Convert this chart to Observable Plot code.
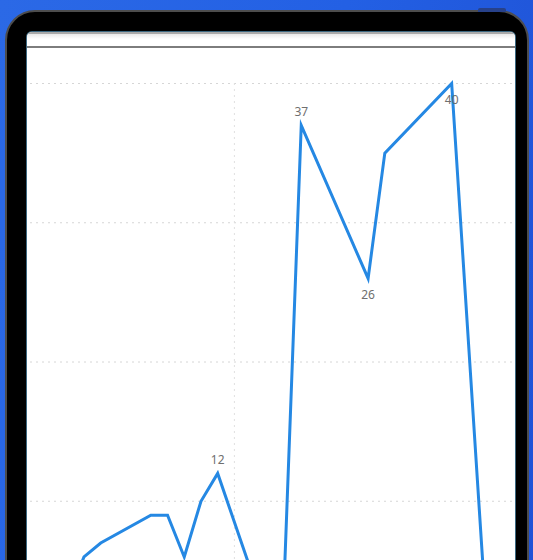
<!DOCTYPE html>
<html>
<head>
<meta charset="utf-8">
<script src="https://cdn.jsdelivr.net/npm/d3@7"></script>
<script src="https://cdn.jsdelivr.net/npm/@observablehq/plot@0.6"></script>
<style>
  html, body { margin: 0; padding: 0; }
  body {
    width: 533px; height: 560px; overflow: hidden; position: relative;
    background: linear-gradient(100deg, #2b69e6 0%, #2360e4 55%, #1f52d6 100%);
    font-family: "Open Sans", "Noto Sans", sans-serif;
  }
  #button { position: absolute; left: 478px; top: 8px; width: 28px; height: 4px;
    background: #27418a; border-radius: 2px 2px 0 0; }
  #bezel {
    position: absolute; left: 5px; top: 10px; width: 524px; height: 620px;
    background: #000; border: 2px solid #4d4d4d; border-radius: 30px; box-sizing: border-box;
  }
  #screen {
    position: absolute; left: 27px; top: 32px; width: 488px; height: 560px;
    background: #fff; border-radius: 5px 5px 0 0; overflow: hidden;
    box-shadow: 0 0 0 1px rgba(110, 190, 235, 0.55);
  }
  #header {
    position: absolute; left: 0; top: 0; width: 100%; height: 16px; box-sizing: border-box;
    border-top: 2px solid #a9a9a9; border-bottom: 2px solid #7d7d7d;
    background: linear-gradient(#e8e8e8, #ffffff 5px);
  }
  #chart { position: absolute; left: 0; top: 16px; }
  #chart svg { display: block; }
</style>
</head>
<body>
<div id="bezel"></div>
<div id="button"></div>
<div id="screen">
  <div id="header"></div>
  <div id="chart"></div>
</div>
<script>
// Data (x = period index, y = value)
const periods = [-2, -1, 0, 3, 4, 5, 6, 7, 9, 10, 11, 12, 16, 17, 21, 23, 24];
const values  = [ 3,  6, 7, 9, 9, 6, 10, 12, 5, 3, 5, 37, 26, 35, 40, 3, 2];
const labelsAbove = [7, 12];   // periods whose value is written above the point
const labelsBelow = [16, 21];  // periods whose value is written below the point
const yTicks = [10, 20, 30, 40];
const xGrid = [8];

const data = periods.map((p, i) => ({period: p, value: values[i]}));
const above = data.filter(d => labelsAbove.includes(d.period));
const below = data.filter(d => labelsBelow.includes(d.period));

const chart = Plot.plot({
  width: 488,
  height: 600,
  marginLeft: 3,
  marginRight: 2,
  marginTop: 35,
  marginBottom: 8,
  x: {domain: [-4.2, 24.7], axis: null},
  y: {domain: [0, 40], axis: null},
  style: {background: "transparent", overflow: "hidden"},
  marks: [
    Plot.gridY(yTicks, {stroke: "#d6d6d6", strokeOpacity: 1, strokeDasharray: "2,4", strokeWidth: 1}),
    Plot.gridX(xGrid, {stroke: "#e0e0e0", strokeOpacity: 1, strokeDasharray: "2,4", strokeWidth: 1}),
    Plot.line(data, {x: "period", y: "value", stroke: "#2588e3", strokeWidth: 3, strokeLinejoin: "miter", strokeMiterlimit: 10}),
    Plot.text(above, {x: "period", y: "value", text: d => String(d.value), dy: -13, fill: "#6f6f6f", fontSize: 12}),
    Plot.text(below, {x: "period", y: "value", text: d => String(d.value), dy: 17, fill: "#6f6f6f", fontSize: 12})
  ]
});
document.getElementById("chart").appendChild(chart);
</script>
</body>
</html>
